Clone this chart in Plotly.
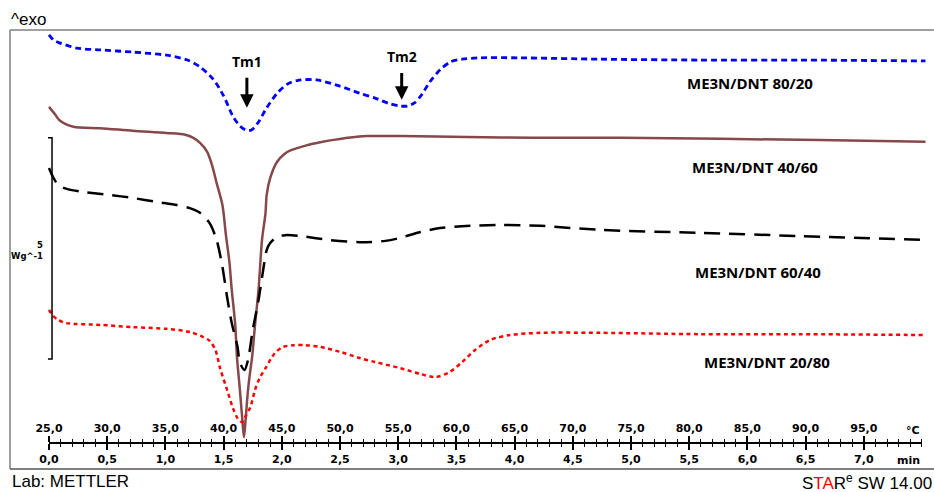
import plotly.graph_objects as go

# ---------------- data (temperature in °C, heat flow in W/g incl. display offset) -------------
t_8020 = [25.0, 25.4, 25.9, 27.4, 29.4, 32.2, 35.1, 36.9, 38.0, 39.1, 40.0, 40.8, 41.4, 41.9, 42.4,
          43.0, 43.7, 44.6, 45.5, 46.6, 48.0, 50.0, 51.7, 53.0, 54.3, 55.2, 55.8, 56.4, 57.0, 57.7,
          58.6, 59.5, 60.5, 62.0, 65.5, 72.3, 80.9, 89.5, 100.3]
hf_8020 = [9.82, 9.70, 9.64, 9.52, 9.48, 9.43, 9.36, 9.25, 9.09, 8.82, 8.44, 7.98, 7.76, 7.67, 7.67,
           7.85, 8.17, 8.50, 8.71, 8.80, 8.80, 8.66, 8.50, 8.39, 8.26, 8.21, 8.21, 8.28, 8.46, 8.75,
           9.03, 9.21, 9.27, 9.30, 9.30, 9.27, 9.25, 9.25, 9.23]

t_4060 = [25.0, 25.5, 25.9, 27.1, 29.4, 32.2, 35.1, 36.7, 37.4, 38.0, 38.6, 39.0, 39.4, 39.9, 40.2,
          40.5, 40.7, 41.0, 41.15, 41.4, 41.6, 41.75, 41.9, 42.1, 42.3, 42.45, 42.7, 43.0, 43.3, 43.6,
          43.7, 44.0, 44.6, 45.2, 45.7, 46.6, 47.4, 48.3, 49.6, 50.9, 52.3, 55.2, 60.9, 66.6, 74.1,
          91.2, 100.3]
hf_4060 = [8.19, 8.03, 7.89, 7.74, 7.71, 7.65, 7.60, 7.56, 7.49, 7.37, 7.17, 6.88, 6.47, 5.97, 5.29,
           4.68, 4.05, 3.26, 2.53, 1.79, 1.15, 0.72, 1.15, 1.79, 2.24, 2.53, 3.26, 4.05, 5.18, 5.79,
           6.20, 6.58, 6.95, 7.12, 7.20, 7.28, 7.34, 7.39, 7.45, 7.50, 7.53, 7.53, 7.51, 7.49, 7.49,
           7.44, 7.40]

t_6040 = [25.0, 25.3, 25.8, 26.6, 27.9, 30.2, 32.2, 34.3, 36.0, 37.1, 38.0, 38.8, 39.4, 39.9, 40.3,
          40.7, 41.2, 41.4, 41.8, 42.1, 42.5, 43.0, 43.4, 43.7, 44.0, 44.6, 45.3, 46.6, 49.1, 51.7,
          53.9, 55.2, 56.9, 58.6, 61.2, 63.8, 67.2, 72.3, 80.9, 89.5, 100.3]
hf_6040 = [6.81, 6.63, 6.42, 6.33, 6.27, 6.20, 6.13, 6.04, 5.97, 5.90, 5.79, 5.56, 5.18, 4.57, 3.89,
           3.30, 2.76, 2.40, 2.24, 2.47, 3.14, 3.82, 4.50, 4.95, 5.11, 5.25, 5.29, 5.27, 5.18, 5.13,
           5.16, 5.23, 5.36, 5.45, 5.50, 5.52, 5.50, 5.41, 5.34, 5.27, 5.18]

t_2080 = [25.0, 25.3, 25.8, 26.5, 29.4, 32.2, 35.1, 37.1, 38.2, 38.8, 39.3, 39.7, 40.3, 40.8, 41.2,
          41.6, 41.9, 42.3, 42.7, 43.1, 43.6, 44.4, 45.1, 46.0, 47.0, 48.3, 50.0, 51.7, 53.0, 55.2,
          56.9, 58.2, 59.4, 60.5, 61.6, 62.9, 64.6, 67.2, 72.3, 80.9, 89.5, 100.3]
hf_2080 = [3.60, 3.48, 3.37, 3.30, 3.26, 3.21, 3.17, 3.10, 2.99, 2.90, 2.69, 2.28, 1.79, 1.38, 1.15,
           1.06, 1.20, 1.40, 1.79, 2.06, 2.28, 2.62, 2.76, 2.80, 2.80, 2.76, 2.65, 2.51, 2.42, 2.28,
           2.15, 2.08, 2.19, 2.42, 2.69, 2.92, 3.03, 3.08, 3.08, 3.05, 3.05, 3.03]

series_names = ["ME3N/DNT 80/20", "ME3N/DNT 40/60", "ME3N/DNT 60/40", "ME3N/DNT 20/80"]
label_pos_t = [85.2, 85.65, 85.9, 86.7]
label_pos_hf = [8.73, 6.83, 4.46, 2.42]

temp_ticks = [25, 30, 35, 40, 45, 50, 55, 60, 65, 70, 75, 80, 85, 90, 95]
temp_labels = ["25,0", "30,0", "35,0", "40,0", "45,0", "50,0", "55,0", "60,0", "65,0",
               "70,0", "75,0", "80,0", "85,0", "90,0", "95,0"]
time_ticks = [0.0, 0.5, 1.0, 1.5, 2.0, 2.5, 3.0, 3.5, 4.0, 4.5, 5.0, 5.5, 6.0, 6.5, 7.0]
time_labels = ["0,0", "0,5", "1,0", "1,5", "2,0", "2,5", "3,0", "3,5", "4,0", "4,5",
               "5,0", "5,5", "6,0", "6,5", "7,0"]

peak_names = ["Tm1", "Tm2"]
peak_t = [42.0, 55.3]
peak_label_hf = [9.21, 9.32]
peak_arrow_bottom = [8.17, 8.35]

scale_bar_t = 25.26
scale_bar_top = 7.49
scale_bar_size = 5.0   # W/g

# ---------------- figure -------------
W, H = 934, 492
T_RANGE = [21.65, 101.03]
HF_RANGE = [0.0, 9.93]
AXIS_POS = 0.0592
DOM = [0.0422, 0.987]

fig = go.Figure()

styles = [
    dict(color="#0000FF", width=2.8, dash="6px,4px"),
    dict(color="#86484A", width=2.5),
    dict(color="#000000", width=2.5, dash="16px,9px"),
    dict(color="#FF0000", width=2.5, dash="4px,3.5px"),
]
for t, hf, st in zip([t_8020, t_4060, t_6040, t_2080], [hf_8020, hf_4060, hf_6040, hf_2080], styles):
    fig.add_trace(go.Scatter(x=t, y=hf, mode="lines", line=dict(shape="spline", smoothing=0.8, **st),
                             showlegend=False, hoverinfo="skip"))

# scale bar
sb_x = [scale_bar_t - 0.35, scale_bar_t, scale_bar_t, scale_bar_t - 0.35]
sb_y = [scale_bar_top, scale_bar_top, scale_bar_top - scale_bar_size, scale_bar_top - scale_bar_size]
fig.add_trace(go.Scatter(x=sb_x, y=sb_y, mode="lines", line=dict(color="black", width=1.5),
                         showlegend=False, hoverinfo="skip"))

# dummy traces for the temperature / time axes
fig.add_trace(go.Scatter(x=[25, 100], y=[None, None], xaxis="x2", yaxis="y2", mode="lines",
                         showlegend=False, hoverinfo="skip"))
fig.add_trace(go.Scatter(x=[0, 7.5], y=[None, None], xaxis="x3", yaxis="y2", mode="lines",
                         showlegend=False, hoverinfo="skip"))

tickfont = dict(family="DejaVu Sans", size=11, color="black", weight="bold")

fig.update_layout(
    width=W, height=H,
    margin=dict(l=10, r=0, t=30, b=23),
    paper_bgcolor="white", plot_bgcolor="rgba(0,0,0,0)",
    xaxis=dict(domain=[0, 1], range=T_RANGE, visible=False, fixedrange=True),
    yaxis=dict(domain=[0, 1], range=HF_RANGE, visible=False, fixedrange=True),
    yaxis2=dict(domain=[0, 1], range=[0, 1], visible=False, anchor="x2"),
    xaxis2=dict(domain=DOM, range=[25, 100], anchor="free", position=AXIS_POS, side="top",
                showline=True, linecolor="black", linewidth=1.5, showgrid=False, zeroline=False,
                tickmode="array", tickvals=temp_ticks, ticktext=temp_labels,
                ticks="outside", ticklen=6, tickwidth=1.5, tickcolor="black",
                minor=dict(ticks="outside", tickmode="linear", tick0=25, dtick=1, ticklen=3,
                           tickwidth=1, tickcolor="black", showgrid=False),
                tickfont=tickfont, automargin=False),
    xaxis3=dict(domain=DOM, range=[0, 7.5], anchor="free", position=AXIS_POS, side="bottom",
                overlaying="x2",
                showline=False, showgrid=False, zeroline=False,
                tickmode="array", tickvals=time_ticks, ticktext=time_labels,
                ticks="outside", ticklen=6, tickwidth=1.5, tickcolor="black",
                minor=dict(ticks="outside", tickmode="linear", tick0=0, dtick=0.1, ticklen=3,
                           tickwidth=1, tickcolor="black", showgrid=False),
                tickfont=tickfont, automargin=False),
)

# frame
frame = dict(type="line", xref="paper", yref="paper", line=dict(color="#808080", width=1.5))
fig.add_shape(x0=0, x1=1, y0=1, y1=1, **frame)
fig.add_shape(x0=0, x1=0, y0=0, y1=1, **frame)
fig.add_shape(x0=0, x1=1, y0=0, y1=0, **{**frame, "line": dict(color="#555555", width=1.5)})

# series labels
for name, tx, ty in zip(series_names, label_pos_t, label_pos_hf):
    fig.add_annotation(x=tx, y=ty, xref="x", yref="y", text=name, showarrow=False,
                       font=dict(family="Open Sans", size=15, color="black", weight="bold"))

# peak markers (label at the arrow tail, arrow pointing down at the peak)
for name, tx, ylab, ybot in zip(peak_names, peak_t, peak_label_hf, peak_arrow_bottom):
    fig.add_annotation(x=tx, y=ybot, ax=tx, ay=ylab, xref="x", yref="y", axref="x", ayref="y",
                       text=name, showarrow=True, arrowhead=2, arrowsize=0.9, arrowwidth=3,
                       arrowcolor="black", standoff=0, startstandoff=5,
                       font=dict(family="Open Sans", size=14, color="black", weight="bold"))

# scale bar label
fig.add_annotation(x=24.66, y=scale_bar_top - scale_bar_size / 2 - 0.05, xref="x", yref="y",
                   text="%g<br>Wg^-1" % scale_bar_size, showarrow=False, xanchor="right", align="right",
                   font=dict(family="DejaVu Sans", size=8.5, color="black", weight="bold"))

# unit labels on the axes
fig.add_annotation(x=100, y=AXIS_POS + 13 / 439, xref="x2", yref="paper", text="°C", showarrow=False,
                   xanchor="right", yanchor="middle", font=tickfont)
fig.add_annotation(x=7.5, y=AXIS_POS - 17 / 439, xref="x3", yref="paper", text="min", showarrow=False,
                   xanchor="right", yanchor="middle", font=tickfont)

# header / footer texts
fig.add_annotation(x=-0.001, y=1.023, xref="paper", yref="paper", text="^exo", showarrow=False,
                   xanchor="left", yanchor="middle",
                   font=dict(family="Liberation Sans", size=17, color="black"))
fig.add_annotation(x=0, y=-0.0296, xref="paper", yref="paper", text="Lab: METTLER", showarrow=False,
                   xanchor="left", yanchor="middle",
                   font=dict(family="Liberation Sans", size=17, color="black"))
fig.add_annotation(x=0.9995, y=-0.0296, xref="paper", yref="paper",
                   text="S<span style='color:#FF0000'>TA</span>R<sup>e</sup> SW 14.00", showarrow=False,
                   xanchor="right", yanchor="middle",
                   font=dict(family="Liberation Sans", size=17, color="black"))

fig.write_html("out.html")
